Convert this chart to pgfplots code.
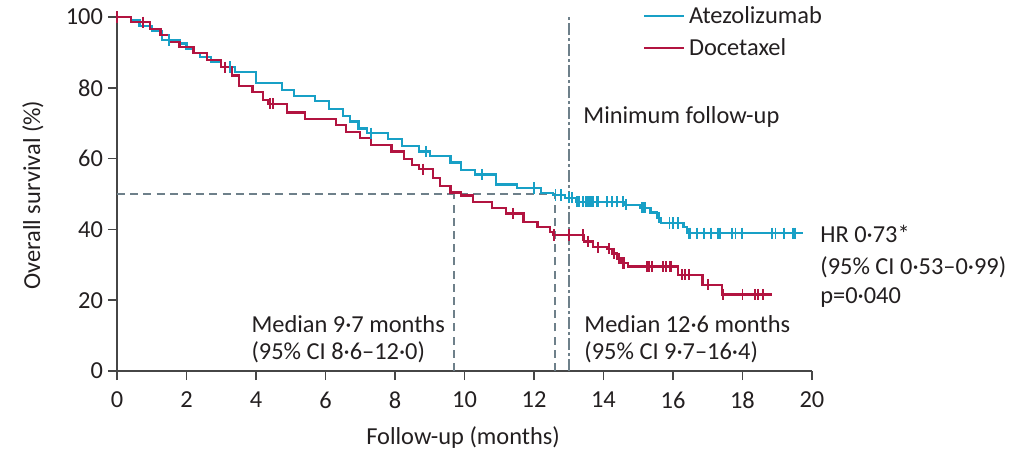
\documentclass[border=0pt]{standalone}
\usepackage{fontspec}
\setmainfont{Carlito}
\usepackage{pgfplots}
\usepackage{pgfplotstable}
\pgfplotsset{compat=1.18}

\definecolor{atezo}{RGB}{24,160,198}
\definecolor{doce}{RGB}{178,20,64}
\definecolor{refline}{RGB}{110,128,138}
\definecolor{axisgray}{RGB}{70,70,70}
\definecolor{txt}{RGB}{35,31,32}
\newcommand{\cf}{\fontsize{12.2}{14.5}\selectfont}

% Kaplan-Meier step curves: time (months), survival after each event (%)
\pgfplotstableread{
t s
0 100
0.4 99
0.65 97.5
1.0 96
1.3 93.5
1.8 92.5
2.0 91
2.2 89.8
2.4 88.7
2.7 87.3
3.0 85.9
3.4 84.5
4.0 81.4
4.75 79.4
5.1 77.7
5.7 76.2
6.1 74
6.5 72
6.7 70.5
6.95 68.5
7.2 67.2
7.8 65.5
8.2 63.6
8.7 62
9.0 60.8
9.6 58.9
9.9 56.7
10.3 55.5
10.9 52.7
11.5 51.7
12.2 50.3
12.55 49.7
12.9 48.9
13.2 47.8
14.6 47.0
15.05 46.1
15.35 44.8
15.55 43.3
15.65 41.8
16.3 40.6
16.4 38.9
19.75 38.9
}\atezocurve

\pgfplotstableread{
t s
0 100
0.4 98.5
0.95 96.5
1.25 95
1.5 93
1.8 91.5
2.2 89.8
2.6 87.9
3.0 85.8
3.3 83.5
3.5 80.5
3.9 78.8
4.2 76.6
4.35 75.5
4.9 73
5.4 71.2
6.3 69.5
6.6 67.6
7.0 65.8
7.3 63.9
7.9 62
8.25 60
8.5 58.2
8.7 57
9.1 54.5
9.3 52.2
9.6 50.4
9.9 49.6
10.25 47.8
10.8 46
11.2 44.5
11.7 42.1
12.1 40.7
12.45 39.3
12.55 38.4
13.45 36.6
13.7 35.0
14.1 34.5
14.25 33.2
14.4 31.8
14.5 30.5
14.7 29.5
16.15 27.2
16.85 24.4
17.4 21.6
18.85 21.6
}\docecurve

% Censored observations
\pgfplotstableread{
t s
1.5 93.5
3.25 85.9
7.3 67.2
8.9 62
10.5 55.5
12.0 51.7
12.62 49.7
12.78 49.7
13.0 48.9
13.1 48.9
13.25 47.8
13.3 47.8
13.4 47.8
13.5 47.8
13.55 47.8
13.6 47.8
13.65 47.8
13.7 47.8
13.8 47.8
13.85 47.8
14.1 47.8
14.25 47.8
14.4 47.8
14.55 47.8
14.65 47.0
15.1 46.1
15.15 46.1
15.2 46.1
15.6 43.3
15.9 41.8
16.0 41.8
16.15 41.8
16.45 38.9
16.5 38.9
16.7 38.9
16.9 38.9
17.1 38.9
17.3 38.9
17.35 38.9
17.7 38.9
17.8 38.9
17.98 38.9
18.85 38.9
18.95 38.9
19.2 38.9
19.45 38.9
19.5 38.9
}\atezocens

\pgfplotstableread{
t s
0 100
0.75 98.5
3.1 85.8
4.4 75.5
4.5 75.5
8.8 57
11.4 44.5
12.57 38.4
13.0 38.4
13.4 38.4
13.55 36.6
13.85 35.0
14.15 34.5
14.3 33.2
14.45 31.8
14.55 30.5
14.6 30.5
15.25 29.5
15.3 29.5
15.4 29.5
15.7 29.5
15.8 29.5
15.9 29.5
15.95 29.5
16.25 27.2
16.35 27.2
16.45 27.2
17.0 24.4
17.45 21.6
18.0 21.6
18.35 21.6
18.45 21.6
18.6 21.6
}\docecens

\begin{document}
\begin{tikzpicture}
\useasboundingbox (-58.5pt,-40.5pt) rectangle (454pt,185.5pt);
\begin{axis}[
  at={(0pt,0pt)}, anchor=south west,
  scale only axis, width=347.5pt, height=177pt,
  xmin=0, xmax=20, ymin=0, ymax=100,
  axis lines=left,
  axis line style={-, axisgray, line width=0.8pt},
  xtick={0,2,...,20}, ytick={0,20,...,100},
  tick align=outside, major tick length=4.5pt,
  tick style={axisgray, line width=0.8pt},
  /pgf/number format/assume math mode=true,
  ticklabel style={font=\cf, text=txt},
  yticklabel style={xshift=1pt},
  xticklabel style={yshift=-2.5pt},
  xlabel={Follow-up (months)},
  ylabel={Overall survival (\%)},
  label style={font=\cf, text=txt},
  xlabel style={at={(axis description cs:0.498,-0.189)}, anchor=center},
  ylabel style={at={(axis description cs:-0.1209,0.497)}, anchor=center},
  clip=false,
  legend style={at={(axis cs:15.14,104.3)}, anchor=north west, draw=none, fill=none,
    font=\cf, text=txt, inner sep=0pt, row sep=2pt},
  legend cell align=left,
  legend image code/.code={\draw[#1, line width=0.75pt] (0pt,0pt) -- (20pt,0pt);},
  every node/.append style={inner sep=0pt},
]
% reference lines: median survival and minimum follow-up
\addplot[forget plot, refline, line width=0.9pt, dash pattern=on 4pt off 2.6pt]
  coordinates {(0,50) (12.6,50)};
\addplot[forget plot, refline, line width=0.9pt, dash pattern=on 4pt off 2.6pt]
  coordinates {(9.7,0) (9.7,50)};
\addplot[forget plot, refline, line width=0.9pt, dash pattern=on 4pt off 2.6pt]
  coordinates {(12.6,0) (12.6,50)};
\addplot[forget plot, refline, line width=0.9pt, dash pattern=on 6pt off 1.5pt on 1.5pt off 1.5pt]
  coordinates {(13,0) (13,100)};

\addplot[const plot, atezo, line width=1.1pt] table[x=t, y=s] {\atezocurve};
\addlegendentry{Atezolizumab}
\addplot[const plot, doce, line width=1.1pt] table[x=t, y=s] {\docecurve};
\addlegendentry{Docetaxel}

\addplot[forget plot, only marks, mark=|, mark size=2.8pt, atezo, mark options={line width=0.95pt}]
  table[x=t, y=s] {\atezocens};
\addplot[forget plot, only marks, mark=|, mark size=2.8pt, doce, mark options={line width=0.95pt}]
  table[x=t, y=s] {\docecens};

% annotations
\node[anchor=base west, font=\cf, text=txt, inner sep=0pt] at (axis cs:13.41,69.8) {Minimum follow-up};
\node[anchor=base west, font=\cf, text=txt, inner sep=0pt] at (axis cs:3.86,11.0) {Median 9·7 months};
\node[anchor=base west, font=\cf, text=txt, inner sep=0pt] at (axis cs:3.86,3.2) {(95\% CI 8·6–12·0)};
\node[anchor=base west, font=\cf, text=txt, inner sep=0pt] at (axis cs:13.44,11.0) {Median 12·6 months};
\node[anchor=base west, font=\cf, text=txt, inner sep=0pt] at (axis cs:13.44,3.2) {(95\% CI 9·7–16·4)};
\node[anchor=base west, font=\cf, text=txt, inner sep=0pt] at (axis cs:20.23,36.2) {HR 0·73*};
\node[anchor=base west, font=\cf, text=txt, inner sep=0pt] at (axis cs:20.23,27.4) {(95\% CI 0·53–0·99)};
\node[anchor=base west, font=\cf, text=txt, inner sep=0pt] at (axis cs:20.23,19.0) {p=0·040};
\end{axis}
\end{tikzpicture}
\end{document}
